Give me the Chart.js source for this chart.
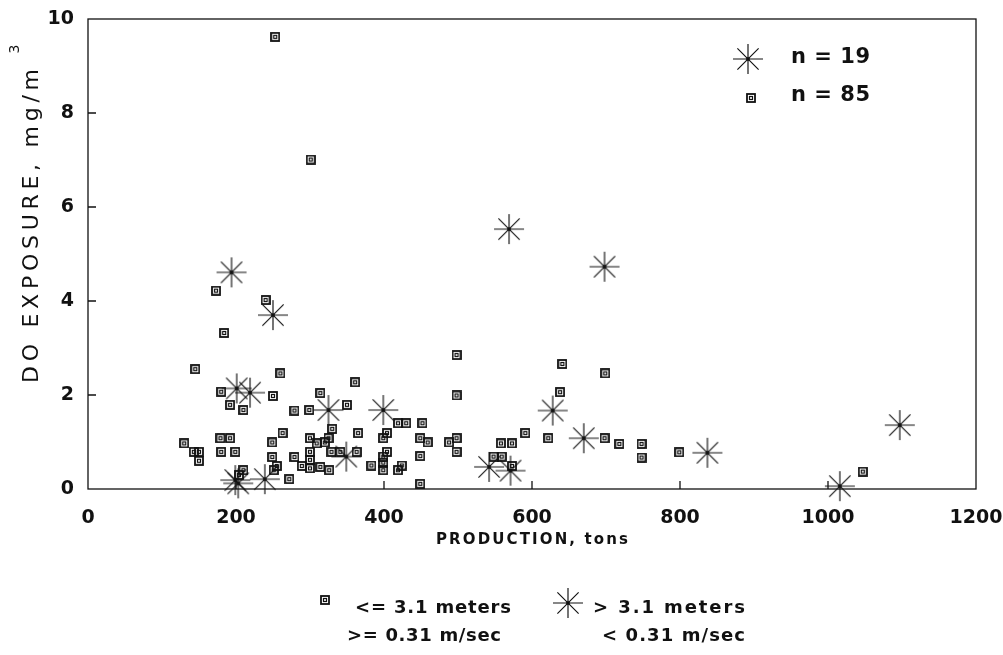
<!DOCTYPE html>
<html>
<head>
<meta charset="utf-8">
<script src="https://cdn.jsdelivr.net/npm/chart.js@4.4.0/dist/chart.umd.min.js"></script>
<style>
  html, body { margin: 0; padding: 0; background: #fff; }
  #wrap { width: 1003px; height: 655px; }
</style>
</head>
<body>
<div id="wrap"><canvas id="myChart" width="1003" height="655"></canvas></div>
<script>
// squares: <= 3.1 meters, >= 0.31 m/sec (n = 85)
var smallProd = [173,240,184,145,260,180,250,192,210,279,
  299,314,130,143,150,150,179,192,180,199,
  249,263,249,255,251,210,272,279,300,300,
  300,289,300,309,498,498,361,350,419,430,
  452,330,365,320,325,404,399,449,459,488,
  498,498,329,341,363,404,399,399,399,314,
  326,383,419,424,449,449,641,699,638,622,
  698,718,748,748,591,558,573,548,559,573,
  799,1047,253,301,204];
var smallExp = [4.22,4.02,3.32,2.55,2.46,2.07,1.98,1.79,1.68,1.67,
  1.68,2.04,0.97,0.79,0.79,0.60,1.08,1.08,0.79,0.79,
  0.99,1.19,0.68,0.49,0.40,0.40,0.21,0.68,1.08,0.79,
  0.62,0.49,0.44,0.97,2.85,1.99,2.27,1.79,1.40,1.40,
  1.40,1.28,1.19,0.99,1.08,1.19,1.08,1.08,0.99,0.99,
  1.08,0.79,0.79,0.79,0.79,0.79,0.69,0.56,0.40,0.47,
  0.40,0.50,0.40,0.50,0.70,0.11,2.66,2.46,2.06,1.08,
  1.08,0.96,0.96,0.67,1.19,0.97,0.97,0.69,0.69,0.49,
  0.78,0.37,9.62,7.01,0.30];

// stars: > 3.1 meters, < 0.31 m/sec (n = 19)
var bigProd = [194,250,201,219,199,203,239,325,399,349,542,569,571,628,670,698,837,1016,1097];
var bigExp  = [4.61,3.70,2.14,2.05,0.19,0.12,0.21,1.68,1.68,0.69,0.47,5.53,0.39,1.67,1.08,4.73,0.77,0.06,1.36];

var xTicks = [0,200,400,600,800,1000,1200];
var yTicks = [0,2,4,6,8,10];

var fontFam = "'DejaVu Sans', Verdana, sans-serif";

// marker images
function makeSquare() {
  var c = document.createElement("canvas");
  c.width = 10; c.height = 10;
  var g = c.getContext("2d");
  g.strokeStyle = "#111";
  g.lineWidth = 1.8;
  g.strokeRect(1, 1, 8, 8);
  g.lineWidth = 1.2;
  g.strokeRect(3.5, 3.5, 3, 3);
  return c;
}
function makeStar() {
  var c = document.createElement("canvas");
  c.width = 34; c.height = 34;
  var g = c.getContext("2d");
  g.strokeStyle = "#111";
  g.lineWidth = 1.15;
  g.beginPath();
  for (var i = 0; i < 4; i++) {
    var a = i * Math.PI / 4;
    g.moveTo(17 - 15 * Math.cos(a), 17 - 15 * Math.sin(a));
    g.lineTo(17 + 15 * Math.cos(a), 17 + 15 * Math.sin(a));
  }
  g.stroke();
  g.fillStyle = "#111";
  g.beginPath();
  g.arc(17, 17, 1.8, 0, Math.PI * 2);
  g.fill();
  return c;
}
var squareImg = makeSquare();
var starImg = makeStar();

function toPoints(xs, ys) {
  return xs.map(function (x, i) { return { x: x, y: ys[i] }; });
}

// draw text spread out to a given width
function spreadText(ctx, txt, x, y, width) {
  ctx.letterSpacing = "0px";
  var w = ctx.measureText(txt).width;
  var ls = Math.max(0, (width - w) / (txt.length - 1));
  ctx.letterSpacing = ls + "px";
  ctx.fillText(txt, x, y);
  ctx.letterSpacing = "0px";
}

// frame, inner ticks, axis titles and the two legends
var decor = {
  id: "decor",
  afterDraw: function (chart) {
    var ctx = chart.ctx;
    var a = chart.chartArea;
    var xs = chart.scales.x, ys = chart.scales.y;
    ctx.save();
    ctx.strokeStyle = "#111";
    ctx.lineWidth = 1.3;
    ctx.strokeRect(a.left, a.top, a.right - a.left, a.bottom - a.top);
    ctx.beginPath();
    yTicks.forEach(function (v) {
      if (v == 0 || v == 10) return;
      var py = ys.getPixelForValue(v);
      ctx.moveTo(a.left, py); ctx.lineTo(a.left + 8, py);
    });
    xTicks.forEach(function (v) {
      if (v == 0 || v == 1200) return;
      var px = xs.getPixelForValue(v);
      ctx.moveTo(px, a.bottom); ctx.lineTo(px, a.bottom - 8);
    });
    ctx.stroke();

    ctx.fillStyle = "#111";
    ctx.textBaseline = "middle";
    ctx.textAlign = "left";

    // x title
    ctx.font = "bold 15px " + fontFam;
    spreadText(ctx, "PRODUCTION, tons", 436, 540, 192);

    // y title
    ctx.save();
    ctx.translate(32, 383);
    ctx.rotate(-Math.PI / 2);
    ctx.font = "22px " + fontFam;
    spreadText(ctx, "DO EXPOSURE, mg/m", 0, 0, 314);
    ctx.font = "14px " + fontFam;
    ctx.textAlign = "center";
    ctx.fillText("3", 334, -17);
    ctx.restore();

    // inner legend
    ctx.textAlign = "left";
    ctx.font = "bold 21px " + fontFam;
    ctx.drawImage(starImg, 748 - 17, 59 - 17);
    spreadText(ctx, "n = 19", 791, 58, 79);
    ctx.drawImage(squareImg, 751 - 5, 98 - 5);
    spreadText(ctx, "n = 85", 791, 96, 79);

    // bottom legend
    ctx.font = "bold 18px " + fontFam;
    ctx.drawImage(squareImg, 325 - 5, 600 - 5);
    spreadText(ctx, "<= 3.1 meters", 355, 608, 156);
    spreadText(ctx, ">= 0.31 m/sec", 347, 636, 154);
    ctx.drawImage(starImg, 568 - 17, 603 - 17);
    spreadText(ctx, "> 3.1 meters", 593, 608, 152);
    spreadText(ctx, "< 0.31 m/sec", 602, 636, 143);
    ctx.restore();
  }
};

var ctx = document.getElementById("myChart");
var myChart = new Chart(ctx, {
  type: "scatter",
  data: {
    datasets: [{
      label: "n = 85",
      data: toPoints(smallProd, smallExp),
      pointStyle: squareImg,
      clip: false
    }, {
      label: "n = 19",
      data: toPoints(bigProd, bigExp),
      pointStyle: starImg,
      clip: false
    }]
  },
  options: {
    responsive: false,
    animation: false,
    events: [],
    layout: { padding: { top: 19, right: 27, bottom: 106, left: 0 } },
    plugins: { legend: { display: false }, tooltip: { enabled: false } },
    scales: {
      x: {
        type: "linear",
        min: 0, max: 1200,
        grid: { display: false, drawTicks: false },
        border: { display: false },
        ticks: {
          stepSize: 200, color: "#111", padding: 18,
          font: { family: fontFam, size: 19, weight: "bold" },
          callback: function (v) { return String(v); }
        },
        afterFit: function (s) { s.height = 60; s.paddingLeft = 0; s.paddingRight = 0; }
      },
      y: {
        min: 0, max: 10,
        grid: { display: false, drawTicks: false },
        border: { display: false },
        ticks: {
          stepSize: 2, color: "#111", padding: 14,
          font: { family: fontFam, size: 19, weight: "bold" }
        },
        afterFit: function (s) { s.width = 88; s.paddingTop = 0; s.paddingBottom = 0; }
      }
    }
  },
  plugins: [decor]
});
</script>
</body>
</html>
